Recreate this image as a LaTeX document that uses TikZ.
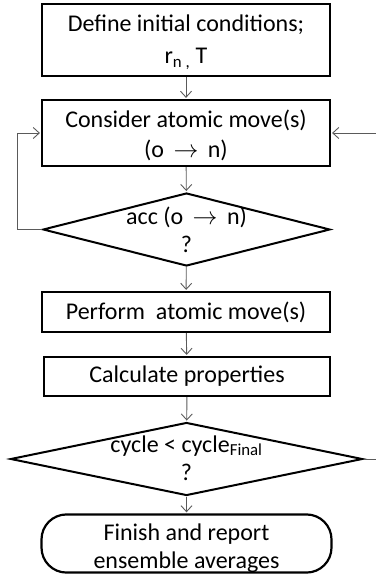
\documentclass[tikz,border=0pt]{standalone}
\usepackage{fontspec}
\setmainfont{Carlito}
\usetikzlibrary{arrows.meta,shapes.geometric}
\definecolor{linkgray}{HTML}{5A5A5A}

\begin{document}
\begin{tikzpicture}[x=1pt,y=-1pt,>={Straight Barb[length=6pt,width=11pt]},
  procbox/.style={draw,line width=2.2pt,minimum width=288pt,inner sep=0pt,align=center,font=\fontsize{24}{30}\selectfont},
  decision/.style={draw,diamond,line width=2pt,inner sep=0pt},
  decisiontext/.style={align=center,inner sep=0pt,font=\fontsize{24}{28}\selectfont},
  termbox/.style={draw,line width=2.2pt,rounded corners=25pt,minimum width=290pt,minimum height=50pt,inner sep=0pt,align=center,font=\fontsize{24}{28}\selectfont},
  link/.style={linkgray,line width=0.9pt,shorten >=1pt}]
  \useasboundingbox (0,0) rectangle (375,577);
  % main column
  \node[procbox,minimum height=72pt] (init) at (186,40) {\rule{0pt}{21pt}Define initial conditions;\\[2pt] r\textsubscript{n ,} T};
  \node[procbox,minimum height=66pt] (consider) at (186,133) {\rule{0pt}{23pt}Consider atomic move(s)\\ (o \,$\rightarrow$\, n)};
  \node[decision,minimum width=287pt,minimum height=73pt] (acc) at (186.5,229.5) {};
  \node[decisiontext] (acctext) at (186.5,230) {acc (o \,$\rightarrow$\, n)\\ ?};
  \node[procbox,minimum height=40pt] (perform) at (186,312) {Perform\ \ atomic move(s)};
  \node[procbox,minimum height=39pt,minimum width=286pt] (calc) at (187,376.5) {Calculate properties};
  \node[decision,minimum width=352pt,minimum height=73pt] (cyc) at (186.5,459) {};
  \node[decisiontext] (cyctext) at (186.5,458) {cycle < cycle\textsubscript{Final}\\ ?};
  \node[termbox] (finish) at (186.5,543.5) {\rule{0pt}{26pt}Finish and report\\ ensemble averages};
  % loop-back lines
  \coordinate (lloop) at (17,0);
  \coordinate (rloop) at (378,0);
  \draw[link,->] (init) -- (consider);
  \draw[link,->] (consider) -- (acc);
  \draw[link,->] (acc) -- (perform);
  \draw[link,->] (perform) -- (calc);
  \draw[link,->] (calc) -- (cyc);
  \draw[link,->] (cyc) -- (finish);
  \draw[link,->] (acc.west) -- (acc.west -| lloop) |- (consider.west);
  \draw[link,->] (cyc.east) -- (cyc.east -| rloop) |- (consider.east);
\end{tikzpicture}
\end{document}
